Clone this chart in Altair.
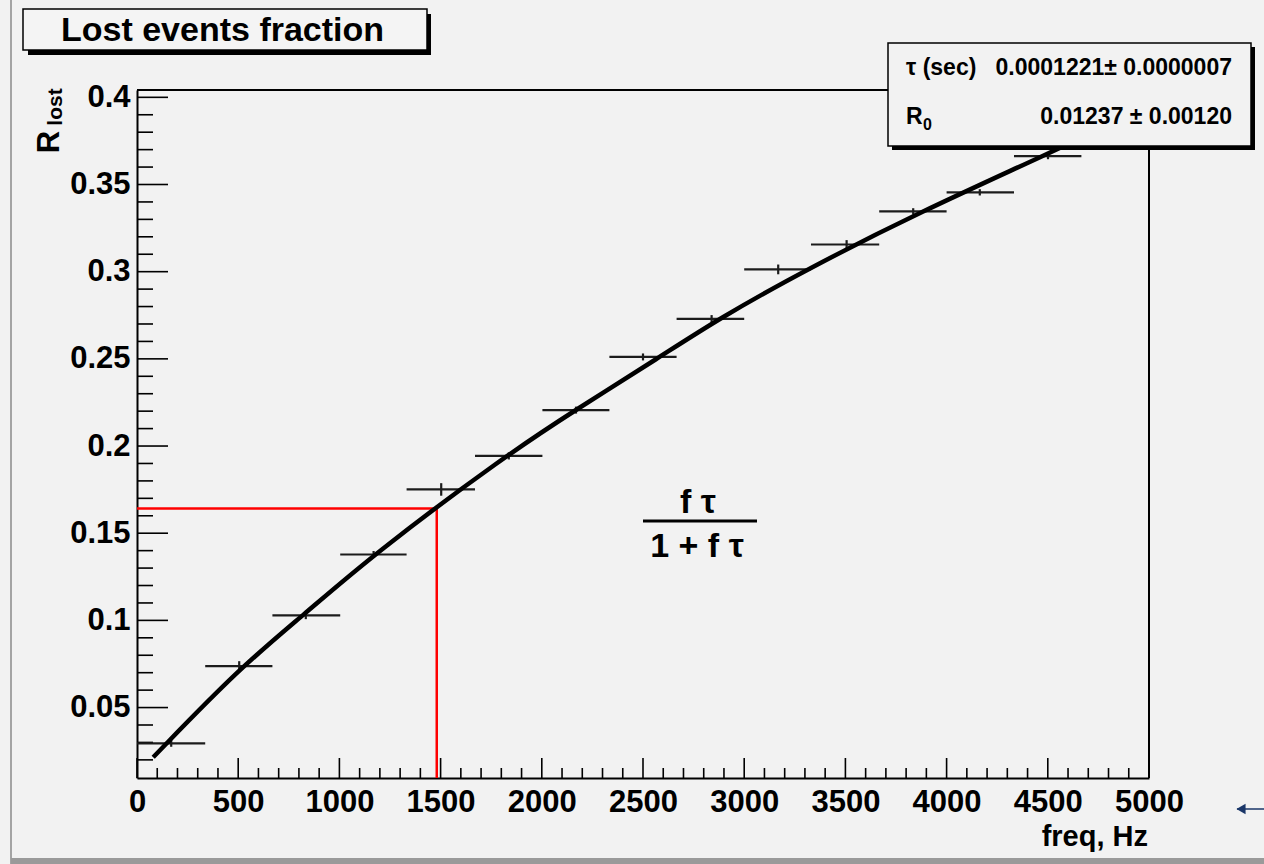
import altair as alt
import pandas as pd

# ---------------- data ----------------
freq = [169, 505, 834, 1169, 1503, 1837, 2169, 2500, 2839, 3168, 3506, 3835, 4164, 4501]
freq_lo = [0, 337, 669, 1004, 1332, 1670, 2003, 2334, 2666, 3000, 3330, 3667, 4000, 4333]
freq_hi = [337, 669, 1004, 1332, 1670, 2003, 2334, 2666, 3000, 3330, 3667, 4000, 4333, 4666]
r_lost = [0.0295, 0.0738, 0.1029, 0.1378, 0.1751, 0.1943, 0.2206, 0.2511, 0.2729, 0.3013,
          0.3156, 0.3346, 0.3455, 0.3663]
r_err = [0.0020, 0.0028, 0.0022, 0.0020, 0.0036, 0.0020, 0.0020, 0.0020, 0.0022, 0.0028,
         0.0025, 0.0018, 0.0018, 0.0018]

fit_f = [80, 510, 821, 1167, 1819, 2164, 2584, 2872, 3308, 3876, 4477, 5000]
fit_r = [0.0215, 0.0730, 0.1029, 0.1378, 0.1943, 0.2205, 0.2511, 0.2729, 0.3013, 0.3346,
         0.3663, 0.3950]

marker_f = [1481]
marker_r = [0.1642]

x_dom = [0, 5000]
y_dom = [0.0096, 0.4042]
x_major = [0, 500, 1000, 1500, 2000, 2500, 3000, 3500, 4000, 4500, 5000]
x_minor = [100, 200, 300, 400, 600, 700, 800, 900, 1100, 1200, 1300, 1400,
           1600, 1700, 1800, 1900, 2100, 2200, 2300, 2400, 2600, 2700, 2800, 2900,
           3100, 3200, 3300, 3400, 3600, 3700, 3800, 3900, 4100, 4200, 4300, 4400,
           4600, 4700, 4800, 4900]
y_major = [0.05, 0.1, 0.15, 0.2, 0.25, 0.3, 0.35, 0.4]
y_minor = [0.02, 0.03, 0.04, 0.06, 0.07, 0.08, 0.09, 0.11, 0.12, 0.13, 0.14,
           0.16, 0.17, 0.18, 0.19, 0.21, 0.22, 0.23, 0.24, 0.26, 0.27, 0.28, 0.29,
           0.31, 0.32, 0.33, 0.34, 0.36, 0.37, 0.38, 0.39]

title_text = "Lost events fraction"
x_title = "freq, Hz"
y_title_main = "R"
y_title_sub = "lost"
stat_names = ["τ (sec)", "R"]
stat_sub = "0"
stat_values = ["0.0001221± 0.0000007", "0.01237 ± 0.00120"]
formula_num = "f τ"
formula_den = "1 + f τ"

# ---------------- layout ----------------
W, H = 1012, 688
FONT = "Liberation Sans"
BG = "#f2f2f2"

xs = alt.Scale(domain=x_dom, nice=False, zero=False)
ys = alt.Scale(domain=y_dom, nice=False, zero=False)

pts = pd.DataFrame({"f": freq, "lo": freq_lo, "hi": freq_hi, "r": r_lost, "e": r_err})
pts["rlo"] = pts["r"] - pts["e"]
pts["rhi"] = pts["r"] + pts["e"]
fit = pd.DataFrame({"f": fit_f, "r": fit_r})
mk = pd.DataFrame({"f": marker_f, "r": marker_r})
one = pd.DataFrame({"k": [0]})

x_axis = alt.Axis(values=x_major, format="d", ticks=False, grid=False, title=None,
                  labelFont=FONT, labelFontWeight="bold", labelFontSize=31,
                  labelColor="black", labelPadding=9, labelFlush=False, labelOverlap=False,
                  domainColor="black", domainWidth=2)
y_axis = alt.Axis(values=y_major, format=".2~f", ticks=False, grid=False, title=None,
                  labelFont=FONT, labelFontWeight="bold", labelFontSize=31,
                  labelColor="black", labelPadding=7, labelFlush=False, labelOverlap=False,
                  domainColor="black", domainWidth=2)


def xq(field):
    return alt.X(field, scale=xs, axis=x_axis)


def yq(field):
    return alt.Y(field, scale=ys, axis=y_axis)


base_axes = alt.Chart(pts).mark_point(opacity=0).encode(x=xq("f:Q"), y=yq("r:Q"))

frame_top = alt.Chart(one).mark_rule(color="black", strokeWidth=2).encode(
    x=alt.value(0), x2=alt.value(W), y=alt.value(0))
frame_right = alt.Chart(one).mark_rule(color="black", strokeWidth=2).encode(
    x=alt.value(W), y=alt.value(0), y2=alt.value(H))

xt_major = alt.Chart(pd.DataFrame({"t": x_major})).mark_rule(color="black", strokeWidth=1.6).encode(
    x=xq("t:Q"), y=alt.value(H), y2=alt.value(H - 20))
xt_minor = alt.Chart(pd.DataFrame({"t": x_minor})).mark_rule(color="black", strokeWidth=1.6).encode(
    x=xq("t:Q"), y=alt.value(H), y2=alt.value(H - 10))
yt_major = alt.Chart(pd.DataFrame({"t": y_major})).mark_rule(color="black", strokeWidth=1.6).encode(
    y=yq("t:Q"), x=alt.value(0), x2=alt.value(31))
yt_minor = alt.Chart(pd.DataFrame({"t": y_minor})).mark_rule(color="black", strokeWidth=1.6).encode(
    y=yq("t:Q"), x=alt.value(0), x2=alt.value(16))

red_h = alt.Chart(mk).mark_rule(color="#ff0000", strokeWidth=2.5).encode(
    x=xq("f:Q"), x2=alt.value(0), y=yq("r:Q"))
red_v = alt.Chart(mk).mark_rule(color="#ff0000", strokeWidth=2.5).encode(
    x=xq("f:Q"), y=yq("r:Q"), y2=alt.value(H))

bars_h = alt.Chart(pts).mark_rule(color="#1c1c1c", strokeWidth=2.2).encode(
    x=xq("lo:Q"), x2="hi:Q", y=yq("r:Q"))
bars_v = alt.Chart(pts).mark_rule(color="#1c1c1c", strokeWidth=2.2).encode(
    x=xq("f:Q"), y=yq("rlo:Q"), y2="rhi:Q")

curve = alt.Chart(fit).mark_line(color="black", strokeWidth=4.5, interpolate="basis").encode(
    x=xq("f:Q"), y=yq("r:Q"))


def box(x1, x2, y1, y2, fill, stroke=None, sw=0):
    kw = dict(fill=fill)
    if stroke:
        kw.update(stroke=stroke, strokeWidth=sw)
    return alt.Chart(one).mark_rect(**kw).encode(
        x=alt.value(x1), x2=alt.value(x2), y=alt.value(y1), y2=alt.value(y2))


def txt(s, x, y, size, align="left", baseline="middle", weight="bold", angle=0, color="black", font=FONT):
    kw = dict(font=font, fontSize=size, fontWeight=weight, align=align, baseline=baseline, color=color)
    if angle:
        kw["angle"] = angle
    return alt.Chart(one).mark_text(**kw).encode(
        x=alt.value(x), y=alt.value(y), text=alt.value(s))


stat_shadow = box(755, 1118, -43, 60, "black")
stat_box = box(751, 1114, -47, 56, BG, "black", 1.5)
stat_t = [
    txt(stat_names[0], 769, -22, 23),
    txt(stat_values[0], 1095, -22, 23, align="right"),
    txt(stat_names[1], 769, 27, 23),
    txt(stat_sub, 786, 35, 16),
    txt(stat_values[1], 1095, 27, 23, align="right"),
]

title_shadow = box(-109, 294, -76, -35, "black")
title_box = box(-114, 290, -81, -40, "#f4f4f4", "black", 1.5)
title_t = txt(title_text, -76, -59, 34)

formula_line = alt.Chart(one).mark_rule(color="black", strokeWidth=3).encode(
    x=alt.value(506), x2=alt.value(620), y=alt.value(431))
formula_t = [
    txt(formula_num, 561, 423, 34, align="center", baseline="alphabetic"),
    txt(formula_den, 560, 467, 34, align="center", baseline="alphabetic"),
]

xlab = txt(x_title, 1011, 756, 29, align="right", baseline="alphabetic")
ylab = [
    txt(y_title_main, -78, 52, 31, align="center", baseline="alphabetic", angle=270),
    txt(y_title_sub, -75, 17, 21, align="center", baseline="alphabetic", angle=270),
]

# page decorations
left_line = alt.Chart(one).mark_rule(color="#8a8a8a", strokeWidth=1.5).encode(
    x=alt.value(-126), y=alt.value(-90), y2=alt.value(H + 86))
bottom_band = box(-126, W + 115, H + 80, H + 86, "#9a9a9a")
arrow_line = alt.Chart(one).mark_rule(color="#1a3668", strokeWidth=1.5).encode(
    x=alt.value(1100), x2=alt.value(1127), y=alt.value(719))
arrow_head = alt.Chart(one).mark_point(shape="triangle-left", filled=True, color="#1a3668",
                                       size=110, opacity=1).encode(
    x=alt.value(1104), y=alt.value(719))

chart = alt.layer(
    base_axes, frame_top, frame_right, xt_major, xt_minor, yt_major, yt_minor,
    red_h, red_v, bars_h, bars_v, curve,
    stat_shadow, stat_box, *stat_t,
    title_shadow, title_box, title_t,
    formula_line, *formula_t, xlab, *ylab,
    left_line, bottom_band, arrow_line, arrow_head,
).properties(
    width=W, height=H,
    padding={"left": 137, "top": 90, "right": 115, "bottom": 86},
    autosize=alt.AutoSizeParams(type="none"),
    background=BG,
).configure_view(stroke=None, fill=BG)

chart.save("out.html", embed_options={"renderer": "svg", "actions": False})
